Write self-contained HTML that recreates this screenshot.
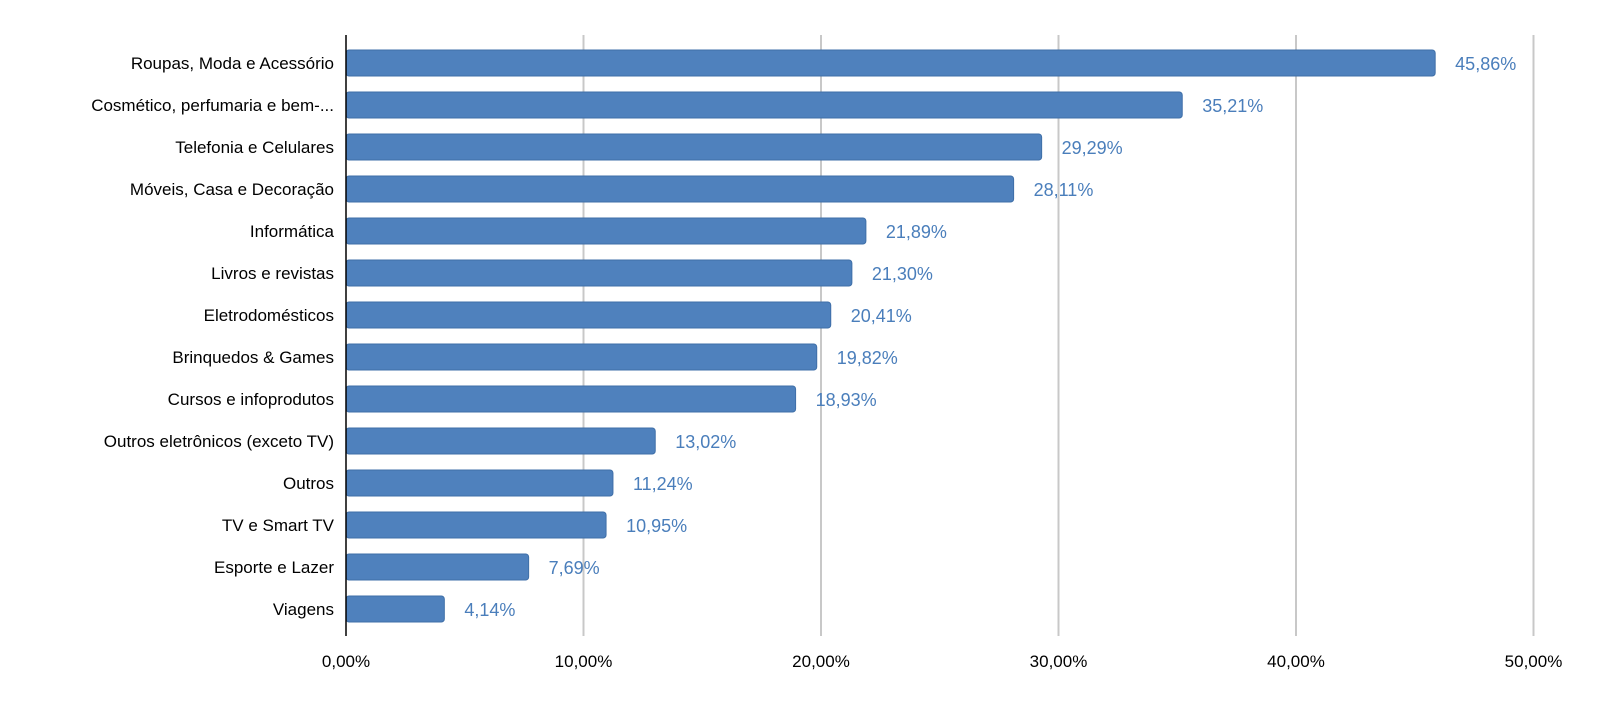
<!DOCTYPE html>
<html><head><meta charset="utf-8"><style>
body{margin:0;background:#fff;}
svg text{font-family:"Liberation Sans",sans-serif;}
</style></head><body>
<svg id="chart" width="1600" height="721"></svg>
<script>
const categories=["Roupas, Moda e Acessório","Cosmético, perfumaria e bem-...","Telefonia e Celulares","Móveis, Casa e Decoração","Informática","Livros e revistas","Eletrodomésticos","Brinquedos & Games","Cursos e infoprodutos","Outros eletrônicos (exceto TV)","Outros","TV e Smart TV","Esporte e Lazer","Viagens"];
const values=[45.86,35.21,29.29,28.11,21.89,21.30,20.41,19.82,18.93,13.02,11.24,10.95,7.69,4.14];
const tickValues=[0,10,20,30,40,50];
const tickLabels=["0,00%","10,00%","20,00%","30,00%","40,00%","50,00%"];

const svgEl=document.getElementById('chart');
const NS='http://www.w3.org/2000/svg';
const x0=346,pxPer=23.75,plotTop=42,stepY=42,bh=26,plotBottom=636;
const xs=v=>x0+v*pxPer;
const yc=i=>plotTop+stepY*i+stepY/2;
function mk(t,a){const e=document.createElementNS(NS,t);for(const k in a)e.setAttribute(k,a[k]);svgEl.appendChild(e);return e;}
tickValues.forEach((t,i)=>{
  if(t>0){const g=mk('line',{x1:xs(t),x2:xs(t),y1:35,y2:plotBottom,stroke:'#c8c8c8','stroke-width':2});
  
  }
  const tl=mk('text',{x:xs(t),y:667,'text-anchor':'middle','font-size':17,fill:'#000'});
  tl.textContent=tickLabels[i];
  
  
});
values.forEach((v,i)=>{
  const r=mk('rect',{x:x0,y:yc(i)-bh/2,width:xs(v)-x0,height:bh,rx:3,fill:'#4f81bd',stroke:'#3f6fa8','stroke-width':1});
  
  
  const c=mk('text',{x:334,y:yc(i)+6,'text-anchor':'end','font-size':17,fill:'#000'});
  c.textContent=categories[i];
  
  
  const l=mk('text',{x:xs(v)+20,y:yc(i)+7,'font-size':18,fill:'#4a7ebb'});
  l.textContent=v.toFixed(2).replace('.',',')+'%';
  
  
});
const ax=mk('line',{x1:x0,x2:x0,y1:35,y2:plotBottom,stroke:'#000','stroke-width':1.5});


</script>
</body></html>
